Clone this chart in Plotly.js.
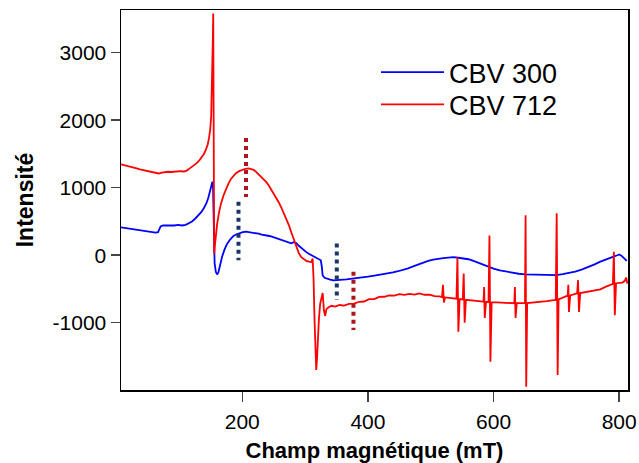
<!DOCTYPE html>
<html>
<head>
<meta charset="utf-8">
<script src="https://cdn.plot.ly/plotly-3.0.1.min.js"></script>
<style>html,body{margin:0;padding:0;background:#fff;}#chart{width:639px;height:463px;}</style>
</head>
<body>
<div id="chart"></div>
<script>
// CBV 300 (blue)
const cbv300X = [7,12,17,22,27,32,37,42,47,52,57,62,66,68,70,74,80,86,92,98,104,110,115,120,125,130,135,139,143,146,149,151,152.5,153.5,154.5,156,158,160,162,165,168,172,176,181,186,191,196,201,206,211,216,221,226,231,236,241,246,251,256,261,266,270,274,278,282,286,290,294,298,302,306,310,314,318,322,325,326.5,328,331,335,340,345,350,355,360,366,372,378,385,392,400,408,416,424,432,440,448,456,464,472,480,488,496,504,512,520,528,536,544,552,560,568,576,584,592,600,610,620,630,640,650,660,670,680,690,700,710,720,730,740,750,760,770,780,790,796,800,804,808,812];
const cbv300Y = [412,405,398,392,385,378,372,362,356,350,342,335,340,380,425,440,437,445,440,448,440,450,470,500,540,585,640,700,770,850,950,1040,1090,1000,300,-120,-250,-285,-255,-130,-20,90,170,235,285,310,330,340,348,342,338,325,318,305,300,288,278,262,248,230,210,195,180,175,192,180,140,105,75,45,20,0,-20,-40,-60,-75,-160,-300,-335,-350,-362,-372,-368,-375,-362,-358,-350,-345,-335,-328,-318,-305,-295,-285,-270,-255,-238,-220,-195,-165,-135,-110,-85,-65,-50,-42,-35,-28,-38,-45,-60,-85,-115,-150,-180,-200,-225,-245,-262,-275,-285,-288,-292,-298,-300,-295,-280,-265,-245,-215,-180,-140,-95,-55,-25,-5,10,-10,-45,-85];

// CBV 712 (red)
const cbv712X = [7,12,17,22,27,32,37,42,47,52,57,62,67,72,77,82,87,92,97,102,107,111,115,119,123,127,131,135,139,142,145,147,149,150.5,151.5,152.5,153.2,153.8,154.3,154.8,155.3,156.5,158,160,163,166,170,174,178,182,186,190,195,200,205,210,214,218,222,226,230,234,238,242,246,250,254,258,262,266,270,274,278,282,286,290,294,298,302,306,310,312,313.5,315,316.5,317.8,319.2,320.5,322,324,326,328,330,332,334,337,342,348,355,362,370,378,386,394,402,410,418,426,434,442,450,458,466,474,482,490,498,506,514,518,519.5,521,523,530,537,541,542.5,544,546,551,552.5,554,556,564,572,580,584,585,586,588,592,593.5,595,597,605,613,621,629,633,634,635,637,645,650,651,652,653.5,661,669,677,685,693,699,700.5,702,703.5,710,716,718,719,720,722,728,733,734.5,736,738,746,754,762,770,778,786,790,791.5,793,795,800,805,809,811,813];
const cbv712Y = [1345,1335,1322,1310,1298,1285,1272,1260,1248,1238,1228,1218,1210,1222,1230,1236,1232,1240,1238,1245,1240,1250,1275,1300,1330,1360,1395,1440,1500,1560,1640,1730,1860,2050,2350,2700,3200,3580,2300,900,20,150,330,460,630,760,880,980,1060,1130,1180,1215,1245,1265,1280,1285,1275,1265,1235,1200,1165,1125,1085,1035,975,915,855,785,710,630,545,450,340,230,120,30,-30,-65,-85,-95,-100,-50,-350,-950,-1500,-1700,-1500,-1150,-950,-720,-620,-560,-820,-900,-800,-775,-750,-762,-738,-748,-720,-718,-690,-686,-652,-650,-618,-616,-594,-598,-578,-588,-574,-583,-566,-586,-584,-606,-610,-620,-440,-700,-625,-635,-640,-645,-30,-1135,-650,-655,-270,-1000,-660,-665,-675,-685,-690,-470,-930,-690,-695,290,-1580,-695,-700,-705,-705,-710,-712,-470,-930,-710,-712,-710,590,-1950,-710,-705,-700,-690,-680,-668,-662,620,-1775,-655,-630,-605,-600,-440,-840,-595,-575,-565,-370,-840,-560,-545,-535,-525,-505,-470,-440,-425,50,-890,-415,-410,-405,-380,-330,-420];

// dotted marker positions
const navyMarkX = [194,194,null,350.5,350.5];
const navyMarkY = [790,-75,null,173,-665];
const redMarkX = [206,206,null,377,377];
const redMarkY = [1735,862,null,-247,-1110];

const xTicks = [200,400,600,800];
const yTicks = [-1000,0,1000,2000,3000];
const yTickText = ['-1000','0','1000','2000','3000'];

const FONT = 'Liberation Sans, Arial, sans-serif';

const traces = [
  {x: cbv300X, y: cbv300Y, type: 'scatter', mode: 'lines', name: 'CBV 300',
   line: {color: '#0000ff', width: 1.8}, legend: 'legend'},
  {x: cbv712X, y: cbv712Y, type: 'scatter', mode: 'lines', name: 'CBV 712',
   line: {color: '#ff0000', width: 1.8}, legend: 'legend2'},
  {x: navyMarkX, y: navyMarkY, type: 'scatter', mode: 'lines', showlegend: false,
   line: {color: '#1b3766', width: 4, dash: 'dot'}},
  {x: redMarkX, y: redMarkY, type: 'scatter', mode: 'lines', showlegend: false,
   line: {color: '#b0141c', width: 4, dash: 'dot'}}
];

const legendBase = {xanchor: 'left', yanchor: 'top',
  font: {family: FONT, size: 27, color: '#000'},
  bgcolor: 'rgba(0,0,0,0)', borderwidth: 0, itemwidth: 63};

const layout = {
  width: 639, height: 463,
  margin: {l: 121, r: 11, t: 10, b: 73},
  paper_bgcolor: '#fff', plot_bgcolor: '#fff',
  font: {family: FONT, color: '#000'},
  showlegend: true,
  legend: Object.assign({}, legendBase, {x: 0.503, y: 0.9}),
  legend2: Object.assign({}, legendBase, {x: 0.503, y: 0.815}),
  xaxis: {range: [7, 814], tickvals: xTicks, ticks: 'outside', ticklen: 10, tickwidth: 1.5,
          ticklabelstandoff: 2,
          showline: true, linecolor: '#000', linewidth: 1.5, mirror: true,
          showgrid: false, zeroline: false,
          tickfont: {family: FONT, size: 21, color: '#000'},
          title: {text: '<b>Champ magnétique (mT)</b>', font: {family: FONT, size: 22, color: '#000'}, standoff: 14}},
  yaxis: {range: [-1997, 3632], tickvals: yTicks, ticktext: yTickText, ticks: 'outside', ticklen: 9, tickwidth: 1.5,
          showline: true, linecolor: '#000', linewidth: 1.5, mirror: true,
          showgrid: false, zeroline: false,
          tickfont: {family: FONT, size: 21, color: '#000'},
          title: {text: '<b>Intensité</b>', font: {family: FONT, size: 23, color: '#000'}, standoff: 12}}
};

Plotly.newPlot('chart', traces, layout, {displayModeBar: false, staticPlot: true});
</script>
</body>
</html>
